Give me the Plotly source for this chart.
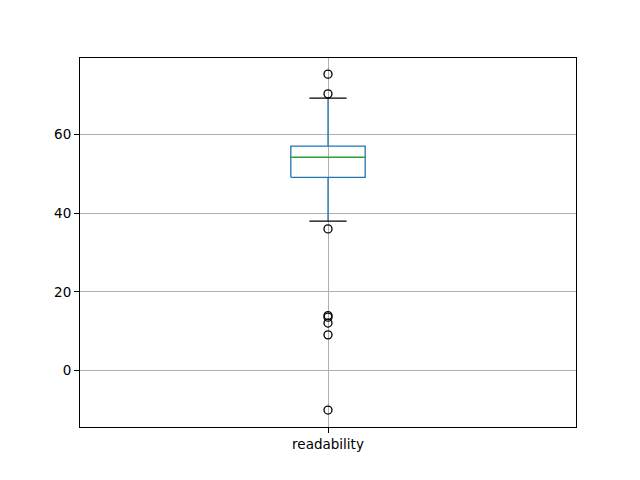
import plotly.graph_objects as go

category = "readability"
q1 = 49.1
median = 54.2
q3 = 57.0
lower_whisker = 38.0
upper_whisker = 69.2
outliers = [75.3, 70.3, 36.0, 14.0, 13.6, 12.1, 9.1, -10.0]

pos = 1.0
box_w = 0.15
cap_w = 0.075

fig = go.Figure()
blue = "#1f77b4"
# box
fig.add_trace(go.Scatter(
    x=[pos - box_w/2, pos + box_w/2, pos + box_w/2, pos - box_w/2, pos - box_w/2],
    y=[q1, q1, q3, q3, q1], mode="lines", line=dict(color=blue, width=1.3),
    hoverinfo="skip", showlegend=False))
# whiskers
fig.add_trace(go.Scatter(x=[pos, pos], y=[q1, lower_whisker], mode="lines",
                         line=dict(color=blue, width=1.3), showlegend=False))
fig.add_trace(go.Scatter(x=[pos, pos], y=[q3, upper_whisker], mode="lines",
                         line=dict(color=blue, width=1.3), showlegend=False))
# caps
for v in [lower_whisker, upper_whisker]:
    fig.add_trace(go.Scatter(x=[pos - cap_w/2, pos + cap_w/2], y=[v, v], mode="lines",
                             line=dict(color="black", width=1.3), showlegend=False))
# median
fig.add_trace(go.Scatter(x=[pos - box_w/2, pos + box_w/2], y=[median, median], mode="lines",
                         line=dict(color="#2ca02c", width=1.3), showlegend=False))
# outliers
fig.add_trace(go.Scatter(x=[pos]*len(outliers), y=outliers, mode="markers",
                         marker=dict(symbol="circle-open", size=8, color="black",
                                     line=dict(width=1.3, color="black")),
                         showlegend=False))

axis_common = dict(showline=True, linecolor="black", linewidth=1, mirror=True,
                   ticks="outside", ticklen=5, tickcolor="black", tickwidth=1,
                   showgrid=True, gridcolor="#b0b0b0", gridwidth=1, zeroline=False,
                   tickfont=dict(family="DejaVu Sans", size=13.5, color="black"))
fig.update_layout(
    width=624, height=464, plot_bgcolor="white", paper_bgcolor="white",
    margin=dict(l=72, r=56, t=50, b=45),
    xaxis=dict(range=[0.5, 1.5], tickvals=[pos], ticktext=[category], **axis_common),
    yaxis=dict(range=[-14.3, 79.4], tickvals=[0, 20, 40, 60], **axis_common),
)
fig.write_html("out.html")
